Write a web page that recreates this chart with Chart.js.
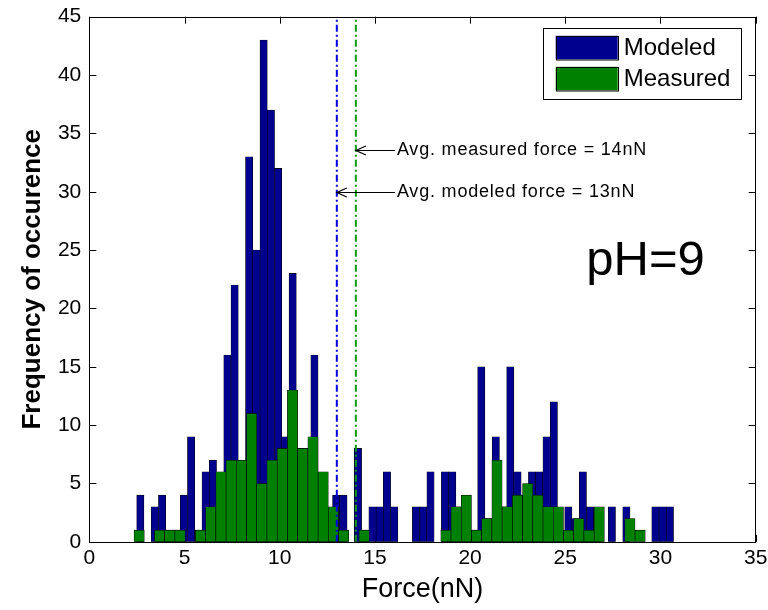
<!DOCTYPE html>
<html>
<head>
<meta charset="utf-8">
<title>Force histogram pH=9</title>
<script src="https://cdn.jsdelivr.net/npm/chart.js@4.4.1/dist/chart.umd.min.js"></script>
<style>
  html, body { margin: 0; padding: 0; background: #fff; }
  #wrap { width: 768px; height: 610px; position: relative; }
</style>
</head>
<body>
<div id="wrap"><canvas id="forceHist"></canvas></div>
<script>
// counts per bin (Force, nN)
var modeledCounts = [4,0,3,4,1,1,4,9,1,6, 7,5,16,22,6,33,25,43,37,32, 9,23,8,7,16,5,2,4,4,0,
                     8,1,3,3,6,3,0,0,3,3, 6,0,6,6,3,3,1,15,2,9, 3,15,6,4,6,6,9,12,1,3,
                     2,6,3,2,0,3,0,3,0,0, 0,3,3,3];
var measuredCounts = [1,0,1,1,1,0,1,3,6,7, 7,11,5,7,8,13,8,9,6,3, 1,0,1,0,0,0,0,0,0,0,
                      1,3,4,1,2,7,3,4,5,4, 3,3,1,2,1,3,0,0,2,1];
// histogram bin edges: first edge and width, nN
var modeledBinStart = 2.49, modeledBinWidth = 0.381;
var measuredBinStart = 2.35, measuredBinWidth = 0.537;
// average forces, nN
var avgModeled = 13;
var avgMeasured = 14;
var xTickValues = [0, 5, 10, 15, 20, 25, 30, 35];
var yTickValues = [0, 5, 10, 15, 20, 25, 30, 35, 40, 45];

var FONT = "Arial, 'Liberation Sans', Helvetica, sans-serif";
var TICK = 7;

function binPoints(counts, start, width) {
    return counts.map(function (c, i) {
        return {x: start + (i + 0.5) * width, y: c};
    });
}

function setTicks(values) {
    return function (scale) {
        scale.ticks = values.map(function (v) { return {value: v}; });
    };
}

// box round the plot with inward tick marks on all four sides
var axesBox = {
    id: 'axesBox',
    beforeDatasetsDraw: function (chart) {
        var ctx = chart.ctx, a = chart.chartArea;
        var x = chart.scales.x, y = chart.scales.y;
        ctx.save();
        ctx.strokeStyle = '#000';
        ctx.lineWidth = 1;
        ctx.beginPath();
        xTickValues.forEach(function (v) {
            var px = Math.round(x.getPixelForValue(v)) + 0.5;
            ctx.moveTo(px, a.bottom); ctx.lineTo(px, a.bottom - TICK);
            ctx.moveTo(px, a.top); ctx.lineTo(px, a.top + TICK);
        });
        yTickValues.forEach(function (v) {
            var py = Math.round(y.getPixelForValue(v)) + 0.5;
            ctx.moveTo(a.left, py); ctx.lineTo(a.left + TICK, py);
            ctx.moveTo(a.right, py); ctx.lineTo(a.right - TICK, py);
        });
        ctx.stroke();
        ctx.restore();
    },
    afterDatasetsDraw: function (chart) {
        var ctx = chart.ctx, a = chart.chartArea;
        ctx.save();
        ctx.strokeStyle = '#000';
        ctx.lineWidth = 1;
        ctx.strokeRect(Math.round(a.left) + 0.5, Math.round(a.top) + 0.5,
                       Math.round(a.right - a.left), Math.round(a.bottom - a.top));
        ctx.restore();
    }
};

// arrows pointing at the average lines, plus the pH note
var avgNotes = {
    id: 'avgNotes',
    afterDatasetsDraw: function (chart) {
        var ctx = chart.ctx;
        var x = chart.scales.x, y = chart.scales.y;
        var notes = [
            {text: 'Avg. measured force = ' + avgMeasured + 'nN', at: avgMeasured, row: 33.6},
            {text: 'Avg. modeled force = ' + avgModeled + 'nN', at: avgModeled, row: 30}
        ];
        ctx.save();
        notes.forEach(function (n) {
            var tip = x.getPixelForValue(n.at);
            var tail = x.getPixelForValue(16.05);
            var py = Math.round(y.getPixelForValue(n.row)) + 0.5;
            ctx.strokeStyle = '#000';
            ctx.lineWidth = 1.2;
            ctx.beginPath();
            ctx.moveTo(tail, py); ctx.lineTo(tip, py);
            ctx.moveTo(tip + 10, py - 4.5); ctx.lineTo(tip, py); ctx.lineTo(tip + 10, py + 4.5);
            ctx.stroke();
            ctx.fillStyle = '#000';
            ctx.font = '18px ' + FONT;
            ctx.letterSpacing = '0.8px';
            ctx.textBaseline = 'middle';
            ctx.textAlign = 'left';
            ctx.fillText(n.text, tail + 2, py);
        });
        ctx.letterSpacing = '0px';
        ctx.font = '49px ' + FONT;
        ctx.textBaseline = 'alphabetic';
        ctx.fillText('pH=9', x.getPixelForValue(26.1), y.getPixelForValue(22.9));
        ctx.restore();
    }
};

// legend box in the upper right corner of the plot
var legendBox = {
    id: 'legendBox',
    afterDraw: function (chart) {
        var ctx = chart.ctx, a = chart.chartArea;
        var items = chart.data.datasets.filter(function (d) { return d.type !== 'line'; });
        var boxW = 198, boxH = 71, rowH = 31;
        var right = a.right - 15, top = a.top + 11.6, left = right - boxW;
        ctx.save();
        ctx.fillStyle = '#fff';
        ctx.fillRect(left, top, boxW, boxH);
        ctx.strokeStyle = '#000';
        ctx.lineWidth = 1;
        ctx.strokeRect(Math.round(left) + 0.5, Math.round(top) + 0.5, boxW, boxH);
        items.forEach(function (d, i) {
            var py = top + 7.5 + i * rowH;
            ctx.fillStyle = d.backgroundColor;
            ctx.fillRect(left + 13, py, 62, 23.5);
            ctx.strokeRect(Math.round(left + 13) + 0.5, Math.round(py) + 0.5, 62, 23.5);
            ctx.fillStyle = '#000';
            ctx.font = '24px ' + FONT;
            ctx.textBaseline = 'middle';
            ctx.fillText(d.label, left + 81, py + 12.5);
        });
        ctx.restore();
    }
};

var barStyle = {
    borderColor: '#000',
    borderWidth: 0.6,
    borderSkipped: false,
    barPercentage: 1,
    categoryPercentage: 1,
    grouped: false
};

new Chart(document.getElementById('forceHist'), {
    type: 'bar',
    data: {
        datasets: [
            Object.assign({
                label: 'Modeled',
                data: binPoints(modeledCounts, modeledBinStart, modeledBinWidth),
                backgroundColor: '#00008f',
                xAxisID: 'x',
                order: 2
            }, barStyle),
            Object.assign({
                label: 'Measured',
                data: binPoints(measuredCounts, measuredBinStart, measuredBinWidth),
                backgroundColor: '#008000',
                xAxisID: 'x2',
                order: 1
            }, barStyle),
            {
                type: 'line',
                label: 'avg modeled',
                data: [{x: avgModeled, y: 0}, {x: avgModeled, y: 45}],
                borderColor: '#0000e0',
                borderWidth: 2,
                borderDash: [7, 3, 2, 3],
                pointRadius: 0,
                fill: false,
                xAxisID: 'x',
                order: 0
            },
            {
                type: 'line',
                label: 'avg measured',
                data: [{x: avgMeasured, y: 0}, {x: avgMeasured, y: 45}],
                borderColor: '#0f9a0f',
                borderWidth: 2,
                borderDash: [7, 3, 2, 3],
                pointRadius: 0,
                fill: false,
                xAxisID: 'x',
                order: 0
            }
        ]
    },
    options: {
        responsive: true,
        maintainAspectRatio: false,
        animation: false,
        devicePixelRatio: 1,
        layout: {padding: {top: 16.7, right: 12.3, bottom: 0, left: 0}},
        plugins: {legend: {display: false}, tooltip: {enabled: false}},
        scales: {
            x: {
                type: 'linear',
                min: 0,
                max: 35,
                offset: false,
                afterBuildTicks: setTicks(xTickValues),
                grid: {display: false, drawTicks: false, offset: false},
                border: {display: false},
                ticks: {color: '#000', font: {family: FONT, size: 21}, padding: 4, maxRotation: 0, autoSkip: false},
                title: {display: true, text: 'Force(nN)', color: '#000',
                        font: {family: FONT, size: 27}, padding: {top: 0, bottom: 4}},
                afterFit: function (s) { s.height = 68.2; s.paddingLeft = 0; s.paddingRight = 0; }
            },
            x2: {type: 'linear', min: 0, max: 35, offset: false, grid: {offset: false}, display: false},
            y: {
                type: 'linear',
                min: 0,
                max: 45,
                afterBuildTicks: setTicks(yTickValues),
                grid: {display: false, drawTicks: false},
                border: {display: false},
                ticks: {color: '#000', font: {family: FONT, size: 21}, padding: 8},
                title: {display: true, text: 'Frequency of occurence', color: '#000',
                        font: {family: FONT, size: 26, weight: 'bold'}, padding: {top: 17.4, bottom: 0}},
                afterFit: function (s) { s.width = 89.3; s.paddingTop = 0; s.paddingBottom = 0; }
            }
        }
    },
    plugins: [axesBox, avgNotes, legendBox]
});
</script>
</body>
</html>
